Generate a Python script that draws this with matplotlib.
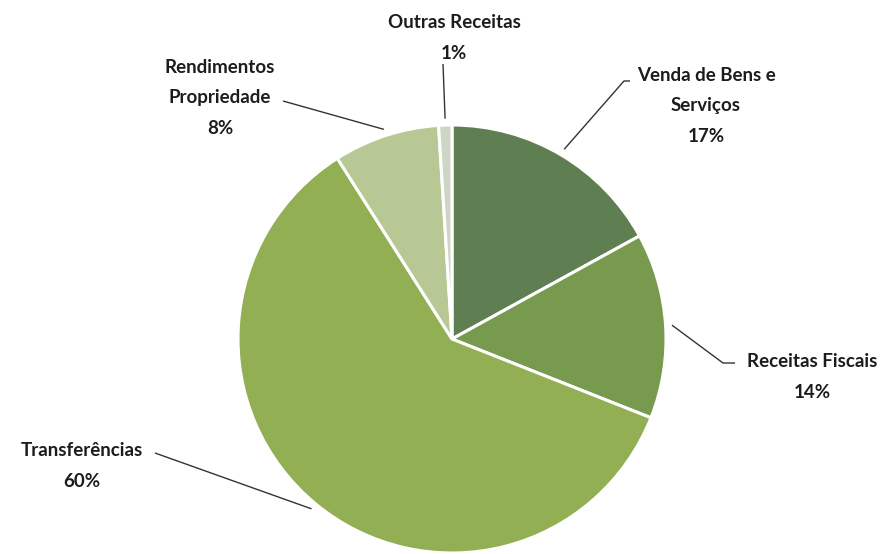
import numpy as np
import matplotlib
matplotlib.use("Agg")
import matplotlib.pyplot as plt

# Revenue composition
categories = ["Venda de Bens e\nServiços", "Receitas Fiscais", "Transferências",
              "Rendimentos\nPropriedade", "Outras Receitas"]
shares = [17, 14, 60, 8, 1]
pct_labels = ["17%", "14%", "60%", "8%", "1%"]
colors = ["#5f7f52", "#779a4f", "#92b053", "#b8c894", "#cdd6c4"]

W, H = 892, 554
fig = plt.figure(figsize=(W / 100, H / 100), dpi=100)
ax = fig.add_axes([0, 0, 1, 1])

cx, cy, r = 452, H - 339, 214
wedges, _ = ax.pie(shares, colors=colors, startangle=90, counterclock=False,
                   center=(cx, cy), radius=r,
                   wedgeprops=dict(edgecolor="white", linewidth=2.2))
ax.set_xlim(0, W)
ax.set_ylim(0, H)
ax.set_aspect("equal", adjustable="box")
ax.axis("off")

font = dict(family=["Lato", "DejaVu Sans"], fontsize=13.5, fontweight="bold",
            color="#1c1c1c", ha="center", va="center", linespacing=1.95)

# label text centre (x, y from top) and the elbow point of each leader line
label_pos = [(706, 106), (812, 377), (82, 466), (220, 98), (454, 38)]
elbows = [[(630, 81), (624, 81)], [(735, 363), (723, 363)], [(155, 453)],
          [(283, 101)], [(443, 64)]]

for w, name, pct, (lx, ly), elb in zip(wedges, categories, pct_labels, label_pos, elbows):
    mid = np.deg2rad((w.theta1 + w.theta2) / 2)
    ax_pt = (cx + 1.03 * r * np.cos(mid), cy + 1.03 * r * np.sin(mid))
    pts = [(x, H - y) for x, y in elb] + [ax_pt]
    xs, ys = zip(*pts)
    ax.plot(xs, ys, color="#333333", linewidth=1.0, solid_capstyle="butt")
    ax.text(lx, H - ly, f"{name}\n{pct}", **font)

fig.savefig("out.png", dpi=100)
